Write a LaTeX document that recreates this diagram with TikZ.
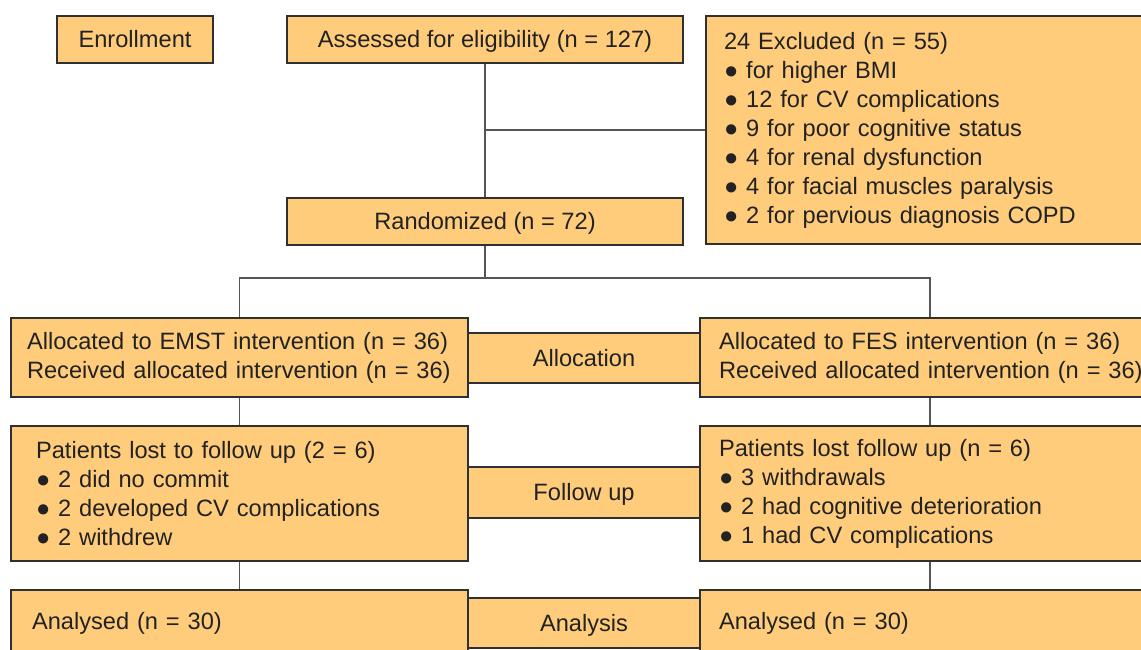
\documentclass[tikz,border=0pt]{standalone}
\usepackage{fontspec}
\setmainfont{Liberation Sans}
\definecolor{boxfill}{HTML}{FECC7B}
\definecolor{boxline}{HTML}{303030}
\definecolor{linkline}{HTML}{555555}
\definecolor{txt}{HTML}{222222}

\begin{document}
\begin{tikzpicture}[x=0.02cm,y=-0.02cm]
\useasboundingbox (0,0) rectangle (1141,649);
\clip (0,0) rectangle (1141,649);
\begin{scope}[every node/.style={rectangle,draw=boxline,fill=boxfill,line width=0.75pt,
              text=txt,inner sep=0pt,font=\fontsize{13.45}{16.5}\selectfont},
              oneline/.style={text height=12.4pt,text depth=2.9pt}]
    \node (enrol) at (135,39.5) [oneline,minimum width=3.12cm,minimum height=0.94cm] {Enrollment};
    \node (assess) at (485,39.5) [oneline,minimum width=7.92cm,minimum height=0.94cm] {Assessed for eligibility (n = 127)};
    \node (excl) at (933,130) [minimum height=4.56cm,inner xsep=0.36cm,text width=8.36cm,align=left]
        {24 Excluded (n = 55)\\
         ● for higher BMI\\
         ● 12 for CV complications\\
         ● 9 for poor cognitive status\\
         ● 4 for renal dysfunction\\
         ● 4 for facial muscles paralysis\\
         ● 2 for pervious diagnosis COPD};
    \node (rand) at (485,221.5) [oneline,minimum width=7.92cm,minimum height=0.94cm] {Randomized (n = 72)};

    \node (alloc) at (584,358) [oneline,minimum width=4.64cm,minimum height=1.0cm] {Allocation};
    \node (emst) at (239.5,357.5) [minimum height=1.58cm,inner xsep=0.32cm,text width=8.5cm,align=left]
        {Allocated to EMST intervention (n = 36)\\
         Received allocated intervention (n = 36)};
    \node (fes) at (939,357.5) [minimum height=1.58cm,inner xsep=0.38cm,text width=8.8cm,align=left]
        {Allocated to FES intervention (n = 36)\\
         Received allocated intervention (n = 36)};

    \node (follow) at (584,492.5) [oneline,minimum width=4.64cm,minimum height=1.02cm] {Follow up};
    \node (lostL) at (239.5,493.5) [minimum height=2.7cm,inner xsep=0.5cm,text width=8.14cm,align=left]
        {Patients lost to follow up (2 = 6)\\
         ● 2 did no commit\\
         ● 2 developed CV complications\\
         ● 2 withdrew};
    \node (lostR) at (930,493.5) [minimum height=2.7cm,inner xsep=0.38cm,text width=8.44cm,align=left]
        {Patients lost follow up (n = 6)\\
         ● 3 withdrawals\\
         ● 2 had cognitive deterioration\\
         ● 1 had CV complications};

    \node (analysis) at (584,623) [oneline,minimum width=4.64cm,minimum height=1.0cm] {Analysis};
    \node (anaL) at (239.5,621) [oneline,minimum height=1.24cm,inner xsep=0.42cm,text width=8.3cm,align=left]
        {Analysed (n = 30)};
    \node (anaR) at (930,621) [oneline,minimum height=1.24cm,inner xsep=0.38cm,text width=8.44cm,align=left]
        {Analysed (n = 30)};
\end{scope}

\begin{scope}[every path/.style={draw=linkline,line width=0.6pt}]
    \coordinate (split) at (485,278);
    \draw (assess) -- (rand);
    \draw (excl.west) -- (excl.west -| assess.south);
    \draw (rand) -- (split);
    \draw (emst.north) |- (split) -| (lostR.north |- fes.north);
    \draw (emst) -- (lostL);
    \draw (lostR.north |- fes.south) -- (lostR);
    \draw (lostL) -- (anaL);
    \draw (lostR) -- (anaR);
\end{scope}
\end{tikzpicture}
\end{document}
